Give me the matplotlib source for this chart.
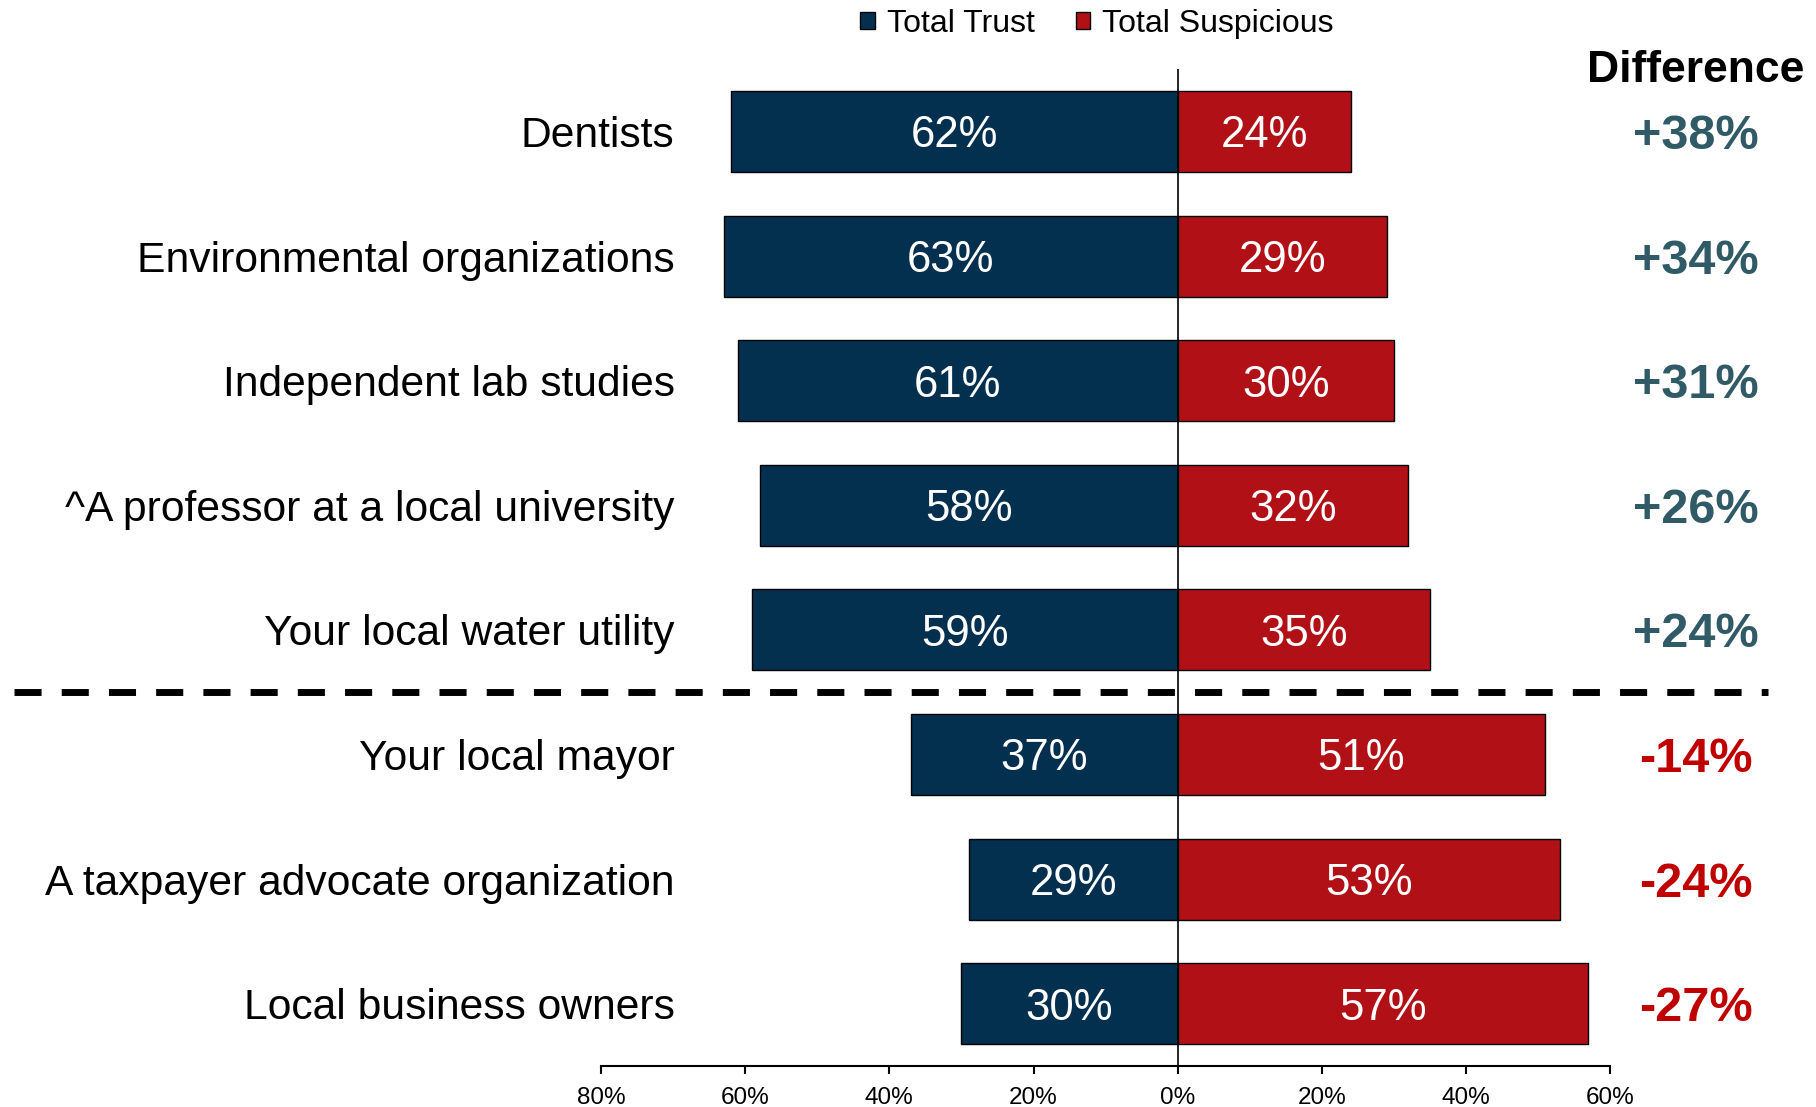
import matplotlib
matplotlib.use("Agg")
import matplotlib.pyplot as plt
import matplotlib.transforms as mtransforms
from matplotlib.patches import Patch
import numpy as np

plt.rcParams['font.family'] = ['Liberation Sans', 'DejaVu Sans']

categories = ["Dentists", "Environmental organizations", "Independent lab studies",
              "^A professor at a local university", "Your local water utility",
              "Your local mayor", "A taxpayer advocate organization", "Local business owners"]
trust = [62, 63, 61, 58, 59, 37, 29, 30]
suspicious = [24, 29, 30, 32, 35, 51, 53, 57]
xticks = [-80, -60, -40, -20, 0, 20, 40, 60]

navy = "#03304f"
red = "#b11116"
teal = "#2f5a66"
dred = "#c00000"

fig = plt.figure(figsize=(18.16, 11.07), dpi=100)
ax = fig.add_axes([0.3310, 0.0370, 0.5556, 0.9006])

y = np.arange(len(categories))
t = np.array(trust)
s = np.array(suspicious)
diff = t - s

ax.barh(y, -t, height=0.65, color=navy, edgecolor="black", linewidth=1, label="Total Trust", zorder=2)
ax.barh(y, s, height=0.65, color=red, edgecolor="black", linewidth=1, label="Total Suspicious", zorder=2)
ax.axvline(0, color="black", lw=1.2, zorder=3)

for i in range(len(categories)):
    ax.text(-t[i] / 2, y[i], f"{t[i]}%", color="white", fontsize=31.5, ha="center",
            va="center_baseline", zorder=4)
    ax.text(s[i] / 2, y[i], f"{s[i]}%", color="white", fontsize=31.5, ha="center",
            va="center_baseline", zorder=4)
    ax.text(-69.8, y[i], categories[i], fontsize=30.7, ha="right", va="center_baseline", color="black")

# difference column
blend = mtransforms.blended_transform_factory(fig.transFigure, ax.transData)
for i in range(len(categories)):
    col = teal if diff[i] > 0 else dred
    ax.text(0.934, y[i], f"{diff[i]:+d}%", transform=blend, fontsize=35, fontweight="bold",
            color=col, ha="center", va="center_baseline", clip_on=False)
fig.text(0.934, 1 - 70 / 1107, "Difference", fontsize=32, fontweight="bold", ha="center", va="center")

# separator between positive and negative groups
ax.plot([0.0077, 0.9736], [4.5, 4.5], transform=blend, color="black", lw=5,
        dashes=(3.9, 2.9), dash_capstyle="butt", clip_on=False, zorder=5)

ax.set_xlim(-80, 60)
ax.set_ylim(7.5, -0.5)
ax.set_xticks(xticks)
ax.set_xticklabels([f"{abs(v)}%" for v in xticks], fontsize=17.5)
ax.set_yticks([])
for sp in ["top", "right", "left"]:
    ax.spines[sp].set_visible(False)
ax.spines["bottom"].set_linewidth(1.5)
ax.tick_params(axis="x", direction="out", length=6, width=1.5, pad=9)

handles = [Patch(facecolor=navy, edgecolor="black", lw=1), Patch(facecolor=red, edgecolor="black", lw=1)]
fig.legend(handles, ["Total Trust", "Total Suspicious"], loc="center", bbox_to_anchor=(1097 / 1816, 1 - 24 / 1107),
           ncol=2, frameon=False, fontsize=23, handlelength=0.45, handleheight=0.45,
           handletextpad=0.37, columnspacing=1.3, borderaxespad=0)

fig.savefig("out.png", dpi=100)
